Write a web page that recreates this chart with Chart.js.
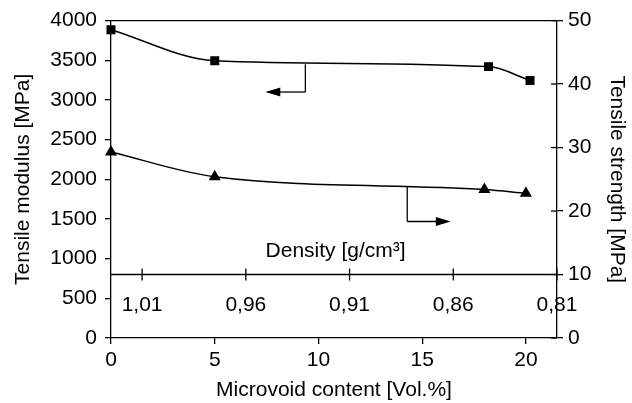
<!DOCTYPE html>
<html>
<head>
<meta charset="utf-8">
<script src="https://cdn.jsdelivr.net/npm/chart.js@4"></script>
<style>
    html, body { margin: 0; padding: 0; background: #fff; }
    #wrap { width: 632px; height: 403px; }
</style>
</head>
<body>
<div id="wrap"><canvas id="chart"></canvas></div>
<script>
// tensile modulus (left axis, MPa) vs microvoid content
const modulusX = [0, 5, 18.2, 20.2];
const modulusY = [3885, 3495, 3420, 3245];
// tensile strength (right axis, MPa)
const strengthX = [0, 5, 18, 20];
const strengthY = [29.3, 25.4, 23.4, 22.8];
// secondary density axis drawn inside the plot
const densityX = [1.5, 6.5, 11.5, 16.5, 21.5];
const densityLabels = ['1,01', '0,96', '0,91', '0,86', '0,81'];
const densityLevel = 800;

const FONT = { family: '"Liberation Sans", Arial, sans-serif', size: 21 };
const pts = (xs, ys) => xs.map((v, i) => ({ x: v, y: ys[i] }));

function line(ctx, x1, y1, x2, y2) {
    ctx.beginPath();
    ctx.moveTo(x1, y1);
    ctx.lineTo(x2, y2);
    ctx.stroke();
}

function arrowHead(ctx, tipX, y, dir) {
    // dir = -1 points left, 1 points right
    ctx.beginPath();
    ctx.moveTo(tipX, y);
    ctx.lineTo(tipX - dir * 15, y - 4.5);
    ctx.lineTo(tipX - dir * 15, y + 4.5);
    ctx.closePath();
    ctx.fill();
}

const extras = {
    id: 'extras',
    afterDraw(chart) {
        const { ctx, chartArea: a, scales: { x, y, y2 } } = chart;
        ctx.save();
        ctx.strokeStyle = '#000';
        ctx.fillStyle = '#000';
        ctx.lineWidth = 1.3;

        // top frame line
        line(ctx, a.left, a.top, a.right, a.top);

        // right axis ticks also cross inward
        y2.ticks.forEach(t => {
            const py = y2.getPixelForValue(t.value);
            line(ctx, a.right - 6, py, a.right, py);
        });

        // density axis
        const dy = y.getPixelForValue(densityLevel);
        line(ctx, a.left, dy, a.right, dy);
        ctx.font = `${FONT.size}px ${FONT.family}`;
        ctx.textAlign = 'center';
        ctx.textBaseline = 'middle';
        densityX.forEach((v, i) => {
            const px = x.getPixelForValue(v);
            line(ctx, px, dy - 6, px, dy + 6);
            ctx.fillText(densityLabels[i], px, dy + 31);
        });
        ctx.textAlign = 'left';
        ctx.textBaseline = 'alphabetic';
        ctx.fillText('Density [g/cm³]', x.getPixelForValue(7.45), y.getPixelForValue(1025));

        // arrow pointing to the modulus axis
        let sx = x.getPixelForValue(9.37);
        let y1 = y.getPixelForValue(3450), y3 = y.getPixelForValue(3100);
        let tip = x.getPixelForValue(7.44);
        line(ctx, sx, y1, sx, y3);
        line(ctx, sx, y3, tip + 10, y3);
        arrowHead(ctx, tip, y3, -1);

        // arrow pointing to the strength axis
        sx = x.getPixelForValue(14.28);
        y1 = y2.getPixelForValue(23.85);
        y3 = y2.getPixelForValue(18.35);
        tip = x.getPixelForValue(16.38);
        line(ctx, sx, y1, sx, y3);
        line(ctx, sx, y3, tip - 10, y3);
        arrowHead(ctx, tip, y3, 1);

        ctx.restore();
    }
};

const axisCommon = {
    ticks: { color: '#000', font: FONT, includeBounds: false, callback: v => String(v) },
    grid: { drawOnChartArea: false, tickLength: 6, color: '#000', lineWidth: 1.3 },
    border: { color: '#000', width: 1.3 },
    title: { display: true, color: '#000', font: FONT }
};

new Chart(document.getElementById('chart'), {
    type: 'line',
    data: {
        datasets: [{
            data: pts(modulusX, modulusY),
            yAxisID: 'y',
            borderColor: '#000',
            backgroundColor: '#000',
            borderWidth: 1.5,
            pointStyle: 'rect',
            pointRadius: 5.3,
            cubicInterpolationMode: 'monotone',
            clip: false
        }, {
            data: pts(strengthX, strengthY),
            yAxisID: 'y2',
            borderColor: '#000',
            backgroundColor: '#000',
            borderWidth: 1.5,
            pointStyle: 'triangle',
            pointRadius: 5.5,
            cubicInterpolationMode: 'monotone',
            clip: false
        }]
    },
    options: {
        responsive: true,
        maintainAspectRatio: false,
        animation: false,
        layout: { padding: { top: 19 } },
        plugins: { legend: { display: false }, tooltip: { enabled: false } },
        scales: {
            x: {
                ...axisCommon,
                type: 'linear',
                min: 0,
                max: 21.5,
                ticks: { ...axisCommon.ticks, stepSize: 5, padding: 4, maxRotation: 0 },
                title: { ...axisCommon.title, text: 'Microvoid content [Vol.%]', padding: { top: 0, bottom: 0 } },
                afterFit: s => { s.height = 65; }
            },
            y: {
                ...axisCommon,
                position: 'left',
                min: 0,
                max: 4000,
                ticks: { ...axisCommon.ticks, stepSize: 500, padding: 8 },
                title: { ...axisCommon.title, text: 'Tensile modulus [MPa]', padding: { top: 11, bottom: 0 } },
                afterFit: s => { s.width = 111; }
            },
            y2: {
                ...axisCommon,
                position: 'right',
                min: 0,
                max: 50,
                ticks: { ...axisCommon.ticks, stepSize: 10, padding: 5 },
                title: { ...axisCommon.title, text: 'Tensile strength [MPa]', padding: { top: 3, bottom: 0 } },
                afterFit: s => { s.width = 75; }
            }
        }
    },
    plugins: [extras]
});
</script>
</body>
</html>
